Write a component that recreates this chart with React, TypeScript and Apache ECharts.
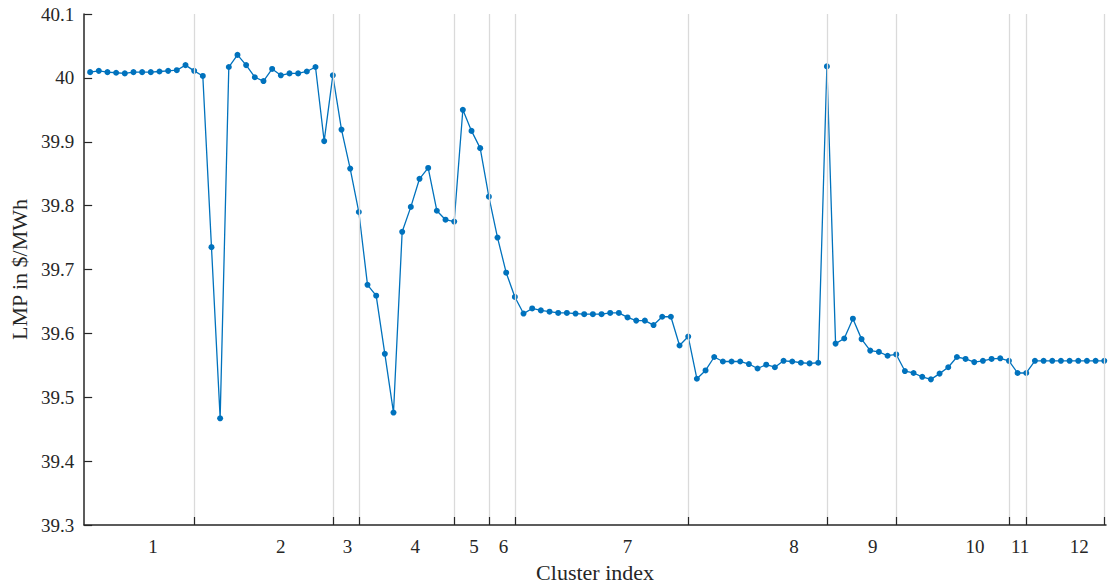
import React, { useEffect, useRef } from "react";
import * as echarts from "echarts";

// LMP values ($/MWh) per bus, ordered by cluster
const lmpValues: number[] = [
  40.009, 40.011, 40.009, 40.008, 40.007, 40.009, 40.009, 40.009, 40.010, 40.011,
  40.012, 40.020, 40.011, 40.003, 39.735, 39.467, 40.017, 40.036, 40.020, 40.001,
  39.995, 40.014, 40.004, 40.007, 40.007, 40.010, 40.017, 39.901, 40.004, 39.919,
  39.858, 39.790, 39.676, 39.659, 39.568, 39.476, 39.759, 39.798, 39.842, 39.859,
  39.792, 39.778, 39.775, 39.950, 39.917, 39.890, 39.814, 39.750, 39.695, 39.657,
  39.631, 39.639, 39.636, 39.634, 39.632, 39.632, 39.631, 39.630, 39.630, 39.630,
  39.632, 39.632, 39.625, 39.620, 39.620, 39.613, 39.626, 39.626, 39.581, 39.595,
  39.529, 39.542, 39.563, 39.556, 39.556, 39.556, 39.552, 39.545, 39.551, 39.547,
  39.557, 39.556, 39.554, 39.553, 39.554, 40.018, 39.584, 39.592, 39.623, 39.591,
  39.573, 39.571, 39.565, 39.567, 39.541, 39.538, 39.532, 39.528, 39.537, 39.547,
  39.563, 39.560, 39.555, 39.557, 39.560, 39.561, 39.557, 39.538, 39.538, 39.557,
  39.557, 39.557, 39.557, 39.557, 39.557, 39.557, 39.557, 39.557,
];

// Cluster boundaries (point index, 1-based)
const clusterBoundaries: number[] = [13, 29, 32, 43, 47, 50, 70, 86, 94, 107, 109, 118];

// Cluster labels and their positions along the x axis
const clusterLabels: string[] = ["1", "2", "3", "4", "5", "6", "7", "8", "9", "10", "11", "12"];
const clusterLabelPositions: number[] = [8.26, 23.0, 30.7, 38.5, 45.3, 48.7, 63.0, 82.2, 91.3, 103.1, 108.3, 115.1];

const yTicks = { min: 39.3, max: 40.1, interval: 0.1 };

const FONT = "'Liberation Serif', 'Times New Roman', serif";
const AXIS_COLOR = "#262626";

export default function App() {
  const ref = useRef<HTMLDivElement>(null);

  useEffect(() => {
    document.body.style.margin = "0";
    if (!ref.current) return;
    const chart = echarts.init(ref.current, undefined, { renderer: "svg" });
    const data = lmpValues.map((v, i) => [i + 1, v]);

    const labelFor = (val: number) => {
      let best = -1;
      let bd = Infinity;
      clusterLabelPositions.forEach((p, i) => {
        const d = Math.abs(p - val);
        if (d < bd) {
          bd = d;
          best = i;
        }
      });
      return bd < 0.01 ? clusterLabels[best] : "";
    };

    chart.setOption({
      animation: false,
      backgroundColor: "#ffffff",
      grid: { left: 83, right: 4, top: 14, bottom: 60, containLabel: false },
      xAxis: {
        type: "value",
        min: 0.31,
        max: 118.2,
        name: "Cluster index",
        nameLocation: "middle",
        nameGap: 36,
        nameTextStyle: { fontFamily: FONT, fontSize: 22, color: AXIS_COLOR },
        axisLine: { show: true, lineStyle: { color: AXIS_COLOR, width: 1.5 } },
        axisTick: {
          show: true,
          inside: true,
          length: 8,
          customValues: clusterBoundaries,
          lineStyle: { color: AXIS_COLOR, width: 1.2 },
        },
        axisLabel: {
          show: true,
          customValues: clusterLabelPositions,
          formatter: (v: number) => labelFor(v),
          fontFamily: FONT,
          fontSize: 19,
          color: AXIS_COLOR,
          margin: 12,
        },
        splitLine: { show: false },
        z: 5,
      },
      yAxis: {
        type: "value",
        min: yTicks.min,
        max: yTicks.max,
        interval: yTicks.interval,
        name: "LMP in $/MWh",
        nameLocation: "middle",
        nameGap: 53,
        nameTextStyle: { fontFamily: FONT, fontSize: 22, color: AXIS_COLOR },
        axisLine: { show: true, lineStyle: { color: AXIS_COLOR, width: 1.5 } },
        axisTick: { show: true, inside: true, length: 8, lineStyle: { color: AXIS_COLOR, width: 1.2 } },
        axisLabel: {
          fontFamily: FONT,
          fontSize: 19,
          color: AXIS_COLOR,
          margin: 10,
          formatter: (v: number) => String(parseFloat(v.toFixed(1))),
        },
        splitLine: { show: false },
        z: 5,
      },
      series: [
        {
          type: "line",
          data: [],
          silent: true,
          z: -1,
          markLine: {
            silent: true,
            symbol: ["none", "none"],
            label: { show: false },
            lineStyle: { color: "#dadada", width: 1.3, type: "solid" },
            data: clusterBoundaries.map((b) => ({ xAxis: b })),
          },
        },
        {
          type: "line",
          data,
          symbol: "circle",
          symbolSize: 6,
          itemStyle: { color: "#0072BD" },
          lineStyle: { color: "#0072BD", width: 1.3 },
          z: 3,
        },
      ],
    });
    return () => chart.dispose();
  }, []);

  return (
    <div
      ref={ref}
      style={{ position: "absolute", left: 0, top: 0, width: 1110, height: 588 }}
    />
  );
}
